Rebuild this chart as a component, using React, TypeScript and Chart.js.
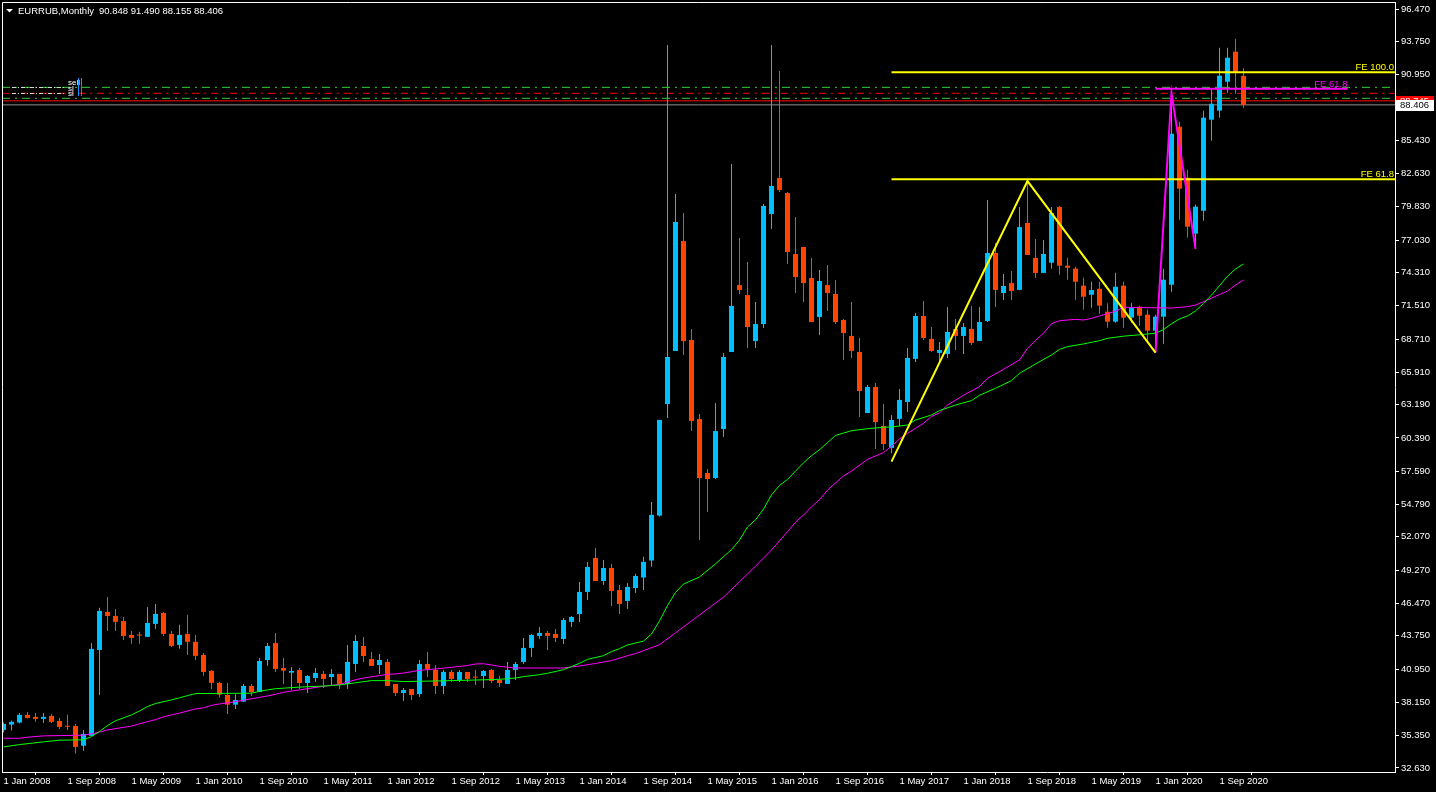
import React, { useEffect, useRef } from 'react';
import { Chart, registerables } from 'chart.js';

Chart.register(...registerables);

// ---- Monthly EURRUB candles, Jan 2008 .. Dec 2020 (index = months since Jan 2008)
const opens = [
  35.83, 36.28, 36.45, 37.10, 36.93, 36.76, 37.01, 36.59, 36.17, 36.17, 34.50, 35.33,
  42.56, 45.76, 45.42, 45.00, 43.82, 43.85, 43.66, 44.75, 45.67, 43.91, 42.98, 43.91,
  43.24, 42.14, 40.80, 39.78, 38.77, 37.96, 38.21, 39.53, 39.02, 41.71, 43.14, 41.04,
  40.65, 40.87, 39.78, 40.20, 40.54, 40.28, 40.54, 39.70, 41.38, 42.89, 41.80, 41.29,
  41.55, 39.70, 38.94, 39.27, 38.85, 41.38, 40.88, 39.53, 40.71, 40.04, 40.71, 40.29,
  40.37, 40.88, 40.04, 39.70, 40.88, 41.55, 42.73, 43.74, 43.99, 43.90, 43.48, 44.92,
  45.58, 47.44, 50.30, 48.36, 49.45, 47.60, 46.68, 47.77, 48.65, 50.08, 53.86, 63.25,
  67.70, 76.95, 68.63, 61.98, 57.44, 57.02, 61.14, 67.62, 73.25, 72.41, 68.54, 69.97,
  79.23, 82.25, 80.99, 75.86, 76.45, 73.84, 70.56, 73.25, 72.50, 70.31, 68.97, 67.62,
  62.49, 64.68, 61.40, 59.55, 61.99, 63.42, 67.04, 70.65, 68.72, 67.54, 67.45, 69.56,
  68.97, 69.56, 68.55, 70.23, 75.95, 72.58, 73.42, 72.84, 78.47, 75.53, 74.27, 75.13,
  79.81, 74.88, 74.63, 73.20, 72.44, 72.94, 71.01, 70.17, 73.20, 70.51, 71.43, 70.76,
  69.41, 70.59, 73.28, 86.57, 82.28, 77.57, 79.50, 87.16, 87.92, 90.35, 92.88, 90.848,
];
const highs = [
  36.45, 36.62, 37.26, 37.35, 37.26, 37.26, 37.18, 36.84, 37.10, 36.34, 35.83, 43.15,
  46.10, 47.02, 46.01, 45.34, 44.16, 44.08, 46.18, 46.43, 45.76, 44.16, 44.67, 45.51,
  43.82, 42.31, 40.88, 39.89, 39.78, 38.83, 39.70, 39.70, 41.88, 43.14, 43.98, 41.88,
  41.12, 41.04, 40.45, 41.04, 40.79, 40.96, 40.54, 42.98, 43.82, 43.65, 42.39, 42.22,
  41.80, 39.70, 39.36, 39.27, 41.71, 42.39, 41.30, 40.88, 40.88, 40.88, 40.71, 40.88,
  40.88, 40.96, 40.37, 41.55, 41.55, 43.57, 43.90, 44.49, 44.16, 44.32, 45.25, 45.42,
  48.28, 49.96, 51.14, 50.13, 49.79, 48.02, 48.19, 48.96, 50.39, 55.01, 61.91, 93.44,
  80.91, 79.31, 69.55, 62.40, 57.78, 63.33, 67.53, 83.43, 77.21, 75.19, 71.82, 80.07,
  93.44, 91.25, 81.07, 78.97, 76.45, 75.52, 74.51, 74.93, 73.68, 70.40, 71.83, 68.80,
  64.85, 65.01, 63.25, 62.32, 64.51, 67.96, 70.90, 71.91, 69.72, 68.46, 71.41, 70.40,
  70.06, 71.49, 71.41, 80.41, 76.79, 74.18, 74.43, 79.82, 81.92, 77.13, 77.04, 79.81,
  79.90, 75.55, 74.80, 73.87, 73.53, 73.53, 71.71, 74.29, 73.53, 71.77, 71.52, 71.18,
  70.76, 74.63, 89.40, 86.99, 82.95, 80.01, 87.92, 89.68, 93.21, 93.21, 93.97, 91.490,
];
const lows = [
  35.61, 35.78, 36.40, 36.79, 36.51, 36.42, 36.42, 35.92, 35.83, 33.84, 34.07, 35.33,
  38.78, 44.16, 44.16, 43.40, 43.07, 43.07, 43.66, 44.33, 43.74, 42.81, 42.65, 42.14,
  41.72, 40.38, 39.28, 38.55, 37.17, 37.59, 38.21, 38.69, 39.02, 41.24, 40.70, 39.70,
  39.19, 39.27, 38.94, 39.86, 39.36, 39.53, 39.27, 39.27, 40.70, 41.55, 41.21, 40.54,
  39.53, 38.69, 38.27, 38.35, 38.60, 40.29, 38.86, 38.86, 39.87, 39.87, 39.87, 39.61,
  39.36, 39.78, 39.45, 39.70, 40.04, 41.38, 41.97, 43.48, 42.56, 43.23, 43.06, 44.49,
  44.91, 46.76, 48.36, 48.02, 46.26, 45.58, 46.01, 47.35, 47.61, 49.57, 53.78, 62.07,
  67.70, 67.37, 60.97, 51.81, 54.16, 56.94, 60.47, 67.62, 72.50, 67.95, 67.95, 69.64,
  77.96, 81.07, 75.02, 72.58, 71.82, 70.14, 69.05, 71.07, 69.98, 66.95, 67.12, 62.15,
  62.49, 59.46, 59.38, 59.13, 61.40, 62.57, 66.78, 68.63, 67.62, 66.78, 67.12, 67.79,
  67.45, 68.21, 68.55, 70.14, 71.41, 71.99, 71.99, 72.84, 75.78, 73.85, 74.27, 74.63,
  74.12, 73.70, 72.02, 71.18, 71.35, 70.84, 69.66, 70.09, 69.66, 70.09, 69.83, 68.43,
  67.56, 68.32, 72.69, 78.75, 77.23, 76.30, 78.66, 85.39, 87.33, 89.43, 89.35, 88.155,
];
const closes = [
  36.34, 36.51, 37.10, 36.84, 36.76, 36.93, 36.51, 36.09, 36.10, 34.40, 35.50, 42.65,
  45.84, 45.42, 44.92, 43.74, 43.57, 43.77, 44.83, 45.59, 43.91, 42.90, 43.82, 43.24,
  42.06, 40.71, 39.79, 38.80, 37.96, 38.35, 39.53, 39.02, 41.63, 42.89, 40.96, 40.82,
  40.79, 39.78, 40.37, 40.62, 40.12, 40.54, 39.70, 41.55, 43.31, 42.05, 41.21, 41.71,
  39.53, 38.94, 39.19, 38.77, 41.38, 40.96, 39.53, 40.71, 40.12, 40.71, 40.12, 40.23,
  40.79, 39.95, 39.78, 40.88, 41.38, 42.73, 43.82, 43.99, 43.74, 43.57, 45.08, 45.33,
  47.44, 49.54, 48.36, 49.45, 47.52, 46.43, 47.86, 48.78, 49.97, 53.92, 61.91, 67.20,
  78.55, 68.54, 61.82, 57.02, 56.94, 60.97, 67.20, 71.49, 72.83, 69.72, 69.97, 79.90,
  81.58, 81.24, 76.03, 73.93, 73.42, 70.14, 73.59, 72.58, 70.14, 69.22, 67.71, 64.34,
  64.68, 61.73, 59.88, 61.90, 63.59, 67.12, 70.65, 68.80, 67.71, 67.79, 69.30, 68.97,
  69.72, 68.38, 70.14, 75.95, 72.84, 73.17, 72.75, 78.13, 75.78, 74.27, 75.86, 79.31,
  74.88, 74.71, 73.53, 72.27, 72.83, 71.52, 70.17, 73.11, 70.51, 71.35, 70.67, 69.41,
  70.59, 73.70, 85.98, 81.36, 78.16, 79.84, 87.33, 88.50, 90.86, 92.37, 91.11, 88.406,
];

// ---- Moving averages: [month index, value]
const maGreen = [
  [0, 34.40], [2, 34.60], [5, 34.83], [7, 34.97], [10, 35.00], [11, 35.27], [12, 35.70], [13, 36.20],
  [14, 36.60], [16, 37.10], [17, 37.43], [18, 37.80], [19, 38.05], [21, 38.36], [22, 38.53], [23, 38.72],
  [24, 38.89], [31, 38.92], [32, 39.08], [33, 39.20], [34, 39.30], [36, 39.39], [38, 39.47], [40, 39.52],
  [42, 39.61], [44, 39.80], [46, 39.98], [48, 39.98], [50, 39.90], [54, 39.95], [56, 39.98], [59, 40.03],
  [62, 40.09], [64, 40.20], [65, 40.32], [67, 40.48], [68, 40.60], [70, 40.90], [71, 41.16], [72, 41.44],
  [73, 41.77], [75, 42.08], [76, 42.42], [77, 42.67], [78, 42.98], [80, 43.30], [81, 43.90], [82, 45.00],
  [83, 46.30], [84, 47.40], [85, 48.10], [87, 48.70], [89, 49.80], [91, 51.00], [92, 51.80], [93, 52.90],
  [94, 53.50], [95, 54.40], [96, 55.60], [97, 56.40], [98, 56.90], [99, 57.60], [100, 58.30], [101, 58.90],
  [102, 59.40], [103, 60.00], [104, 60.60], [106, 61.00], [108, 61.17], [110, 61.29], [111, 61.31], [113, 61.48],
  [114, 61.90], [116, 62.32], [117, 62.69], [119, 63.16], [121, 63.53], [122, 63.98], [124, 64.57], [126, 65.21],
  [127, 65.83], [129, 66.61], [131, 67.37], [132, 67.84], [133, 68.07], [135, 68.30], [137, 68.57], [138, 68.77],
  [140, 68.95], [142, 69.07], [143, 69.13], [144, 69.20], [145, 69.50], [146, 70.00], [147, 70.40], [148, 70.65],
  [149, 71.07], [150, 71.71], [151, 72.41], [152, 73.20], [153, 74.00], [154, 74.60], [155, 75.02],
];
const maMagenta = [
  [0, 35.13], [2, 35.13], [3, 35.22], [5, 35.33], [10, 35.39], [11, 35.50], [12, 35.64], [13, 35.83],
  [15, 36.05], [16, 36.15], [17, 36.35], [19, 36.70], [20, 36.93], [21, 37.10], [22, 37.25], [24, 37.60],
  [25, 37.69], [26, 37.90], [27, 38.02], [28, 38.10], [30, 38.33], [31, 38.45], [32, 38.57], [33, 38.69],
  [34, 38.83], [35, 39.00], [37, 39.20], [38, 39.30], [39, 39.41], [40, 39.50], [42, 39.66], [43, 39.86],
  [44, 40.05], [45, 40.20], [47, 40.40], [48, 40.51], [49, 40.54], [50, 40.62], [51, 40.73], [52, 40.85],
  [54, 40.96], [56, 41.10], [58, 41.25], [59, 41.38], [60, 41.40], [61, 41.30], [62, 41.18], [64, 41.04],
  [70, 41.04], [71, 41.13], [72, 41.21], [73, 41.32], [74, 41.42], [76, 41.67], [77, 41.86], [78, 42.08],
  [79, 42.25], [80, 42.50], [82, 43.00], [84, 44.00], [86, 45.00], [88, 46.00], [90, 47.00], [92, 48.30],
  [94, 49.60], [96, 50.97], [98, 52.51], [99, 53.30], [100, 53.90], [101, 54.60], [102, 55.20], [103, 56.00],
  [105, 57.20], [106, 57.60], [108, 58.59], [110, 59.16], [111, 59.70], [112, 60.30], [113, 60.78], [115, 61.62],
  [116, 62.20], [117, 62.50], [118, 63.16], [120, 63.98], [122, 64.71], [123, 65.41], [125, 66.16], [127, 66.95],
  [128, 67.93], [129, 68.60], [130, 69.20], [131, 70.00], [132, 70.25], [134, 70.37], [135, 70.31], [136, 70.45],
  [137, 70.65], [139, 71.05], [140, 71.38], [146, 71.32], [148, 71.43], [149, 71.57], [150, 71.85], [151, 72.15],
  [152, 72.45], [153, 72.75], [154, 73.25], [155, 73.67],
];

// ---- Drawn objects (Fibonacci expansions)
const yellowZigzag = [[111, 58.40], [128, 82.00], [144, 67.56]];
const magentaZigzag = [[144, 67.56], [146, 89.40], [149, 76.30]];
const yellowFeLevels = [91.15, 82.14];
const yellowFeNames = ['FE 100.0', 'FE 61.8'];
const yellowFeStart = 111;
const magentaFeLevel = 89.77;
const magentaFeName = 'FE 61.8';
const magentaFeRange = [144, 168];

// ---- Trade levels and prices
const greenLevels = [89.88, 88.96];
const redLevels = [89.38];
const askPrice = 88.745;
const bidPrice = 88.406;
const headerSymbol = 'EURRUB,Monthly';
const headerValues = '90.848 91.490 88.155 88.406';

// ---- Axes
const yTickValues = [96.47, 93.75, 90.95, 85.43, 82.63, 79.83, 77.03, 74.31, 71.51, 68.71, 65.91, 63.19,
  60.39, 57.59, 54.79, 52.07, 49.27, 46.47, 43.75, 40.95, 38.15, 35.35, 32.63];
const xTickMonths = [0, 8, 16, 24, 32, 40, 48, 56, 64, 72, 80, 88, 96, 104, 112, 120, 128, 136, 144, 152];
const xTickLabels = ['1 Jan 2008', '1 Sep 2008', '1 May 2009', '1 Jan 2010', '1 Sep 2010', '1 May 2011',
  '1 Jan 2012', '1 Sep 2012', '1 May 2013', '1 Jan 2014', '1 Sep 2014', '1 May 2015', '1 Jan 2016',
  '1 Sep 2016', '1 May 2017', '1 Jan 2018', '1 Sep 2018', '1 May 2019', '1 Jan 2020', '1 Sep 2020'];

const X_MIN = -0.1875;
const X_MAX = 173.9375;
const Y_MAX = 97.0588;
const Y_MIN = 32.2931;

const BULL = '#00bfff';
const BEAR = '#ff4500';
const FONT = 'Liberation Sans';

const pts = (arr) => arr.map(([x, y]) => ({ x, y }));

const overlayPlugin = {
  id: 'mt4overlay',
  afterDatasetsDraw(chart) {
    const { ctx, chartArea, scales } = chart;
    const xs = scales.x;
    const ys = scales.y;
    ctx.save();
    ctx.font = `9.5px "${FONT}"`;
    ctx.textAlign = 'right';
    ctx.textBaseline = 'alphabetic';
    ctx.fillStyle = '#ffff00';
    yellowFeLevels.forEach((v, i) => {
      ctx.fillText(yellowFeNames[i], chartArea.right - 1, Math.round(ys.getPixelForValue(v)) - 2);
    });
    ctx.fillStyle = '#ff00ff';
    ctx.fillText(magentaFeName, xs.getPixelForValue(magentaFeRange[1]), Math.round(ys.getPixelForValue(magentaFeLevel)) - 2);

    // faint trade-history marks at the left
    ctx.strokeStyle = '#d8d8d8';
    ctx.lineWidth = 1;
    ctx.setLineDash([4, 2, 1, 2]);
    [greenLevels[0], redLevels[0]].forEach((v) => {
      const yy = Math.round(ys.getPixelForValue(v)) + 0.5;
      ctx.beginPath();
      ctx.moveTo(12, yy);
      ctx.lineTo(66, yy);
      ctx.stroke();
    });
    ctx.setLineDash([]);
    ctx.textAlign = 'left';
    ctx.font = `8px "${FONT}"`;
    ctx.fillStyle = '#ffffff';
    ctx.fillText('sell', 68, 85);
    ctx.fillText('sl', 68, 91);
    ctx.fillText('sl', 68, 96);
    ctx.fillStyle = '#1e90ff';
    ctx.fillRect(78, 78, 1, 18);
    ctx.fillRect(81, 78, 1, 18);
    ctx.restore();
  },
  afterDraw(chart) {
    const { ctx, chartArea, scales } = chart;
    const ys = scales.y;
    ctx.save();
    // frame left/top
    ctx.strokeStyle = '#ffffff';
    ctx.lineWidth = 1;
    ctx.beginPath();
    ctx.moveTo(chartArea.left + 0.5, chartArea.bottom);
    ctx.lineTo(chartArea.left + 0.5, chartArea.top + 0.5);
    ctx.lineTo(chartArea.right, chartArea.top + 0.5);
    ctx.stroke();
    // header
    ctx.fillStyle = '#ffffff';
    ctx.beginPath();
    ctx.moveTo(6, 9);
    ctx.lineTo(13, 9);
    ctx.lineTo(9.5, 12.5);
    ctx.closePath();
    ctx.fill();
    ctx.font = `9.5px "${FONT}"`;
    ctx.textAlign = 'left';
    ctx.textBaseline = 'middle';
    ctx.fillText(headerSymbol, 18, 11);
    ctx.fillText(headerValues, 99, 11);
    // price boxes on the axis
    const xr = chartArea.right + 1;
    const ya = Math.round(ys.getPixelForValue(askPrice));
    const yb = Math.round(ys.getPixelForValue(bidPrice));
    ctx.fillStyle = '#ff0000';
    ctx.fillRect(xr, ya - 5, 38, 11);
    ctx.fillStyle = '#ffffff';
    ctx.fillText(askPrice.toFixed(3), xr + 4, ya + 0.5);
    ctx.fillStyle = '#ffffff';
    ctx.fillRect(xr, yb - 5, 38, 11);
    ctx.fillStyle = '#000000';
    ctx.fillText(bidPrice.toFixed(3), xr + 4, yb + 0.5);
    ctx.restore();
  },
};

export default function App() {
  const ref = useRef(null);
  useEffect(() => {
    const canvas = ref.current;
    if (!canvas) return;
    const idx = opens.map((_, i) => i);
    const colors = idx.map((i) => (closes[i] >= opens[i] ? BULL : BEAR));
    const bodies = idx.map((i) => ({ x: i, y: [opens[i], closes[i]] }));
    const wicks = idx.map((i) => ({ x: i, y: [lows[i], highs[i]] }));
    const lineBase = { type: 'line', pointRadius: 0, tension: 0, fill: false };

    const datasets = [
      { ...lineBase, data: pts(yellowZigzag), borderColor: '#ffff00', borderWidth: 2, order: 1 },
      { ...lineBase, data: pts(magentaZigzag), borderColor: '#ff00ff', borderWidth: 2, order: 1 },
      ...yellowFeLevels.map((v) => ({
        ...lineBase, data: [{ x: yellowFeStart, y: v }, { x: X_MAX, y: v }], borderColor: '#ffff00', borderWidth: 2, order: 1,
      })),
      { ...lineBase, data: [{ x: magentaFeRange[0], y: magentaFeLevel }, { x: magentaFeRange[1], y: magentaFeLevel }], borderColor: '#ff00ff', borderWidth: 2, order: 1 },
      { ...lineBase, data: pts(maGreen), borderColor: '#00ff00', borderWidth: 1, order: 3 },
      { ...lineBase, data: pts(maMagenta), borderColor: '#ff00ff', borderWidth: 1, order: 3 },
      { type: 'bar', data: bodies, backgroundColor: colors, borderWidth: 0, barThickness: 5, grouped: false, minBarLength: 1, inflateAmount: 0, order: 5 },
      { type: 'bar', data: wicks, backgroundColor: colors, borderWidth: 0, barThickness: 1, grouped: false, minBarLength: 1, inflateAmount: 0, order: 6 },
      ...greenLevels.map((v) => ({
        ...lineBase, data: [{ x: X_MIN, y: v }, { x: X_MAX, y: v }], borderColor: '#32cd32', borderWidth: 1, borderDash: [8, 5, 2, 5], order: 7,
      })),
      ...redLevels.map((v) => ({
        ...lineBase, data: [{ x: X_MIN, y: v }, { x: X_MAX, y: v }], borderColor: '#ff0000', borderWidth: 1, borderDash: [7, 5, 2, 5], order: 7,
      })),
      { ...lineBase, data: [{ x: X_MIN, y: askPrice }, { x: X_MAX, y: askPrice }], borderColor: '#ff0000', borderWidth: 1, order: 7 },
      { ...lineBase, data: [{ x: X_MIN, y: bidPrice }, { x: X_MAX, y: bidPrice }], borderColor: '#909090', borderWidth: 1, order: 7 },
    ];

    const chart = new Chart(canvas, {
      type: 'bar',
      data: { datasets },
      plugins: [overlayPlugin],
      options: {
        animation: false,
        responsive: false,
        devicePixelRatio: 1,
        events: [],
        layout: { padding: { left: 2, top: 2, right: 0, bottom: 0 } },
        plugins: { legend: { display: false }, tooltip: { enabled: false } },
        scales: {
          x: {
            type: 'linear',
            position: 'bottom',
            min: X_MIN,
            max: X_MAX,
            bounds: 'data',
            offset: false,
            afterBuildTicks: (s) => { s.ticks = xTickMonths.map((v) => ({ value: v })); },
            afterFit: (s) => { s.height = 20; s.paddingLeft = 0; s.paddingRight = 0; s.paddingTop = 0; s.paddingBottom = 0; },
            grid: { drawOnChartArea: false, drawTicks: true, tickLength: 3, color: '#ffffff', lineWidth: 1 },
            border: { display: true, color: '#ffffff', width: 1 },
            ticks: {
              autoSkip: false, maxRotation: 0, minRotation: 0, align: 'start', padding: 1,
              color: '#ffffff', font: { family: FONT, size: 9.5 },
              callback: (_v, i) => xTickLabels[i],
            },
          },
          y: {
            type: 'linear',
            position: 'right',
            min: Y_MIN,
            max: Y_MAX,
            bounds: 'data',
            afterBuildTicks: (s) => { s.ticks = yTickValues.map((v) => ({ value: v })); },
            afterFit: (s) => { s.width = 41; s.paddingLeft = 0; s.paddingRight = 0; s.paddingTop = 0; s.paddingBottom = 0; },
            grid: { drawOnChartArea: false, drawTicks: true, tickLength: 4, color: '#ffffff', lineWidth: 1 },
            border: { display: true, color: '#ffffff', width: 1 },
            ticks: {
              autoSkip: false, padding: 2, color: '#ffffff', font: { family: FONT, size: 9.5 },
              callback: (v) => Number(v).toFixed(3),
            },
          },
        },
      },
    });
    return () => chart.destroy();
  }, []);

  return (
    <div style={{ position: 'fixed', left: 0, top: 0, width: 1436, height: 792, background: '#000000' }}>
      <canvas ref={ref} width={1436} height={792} style={{ display: 'block', width: 1436, height: 792 }} />
    </div>
  );
}
